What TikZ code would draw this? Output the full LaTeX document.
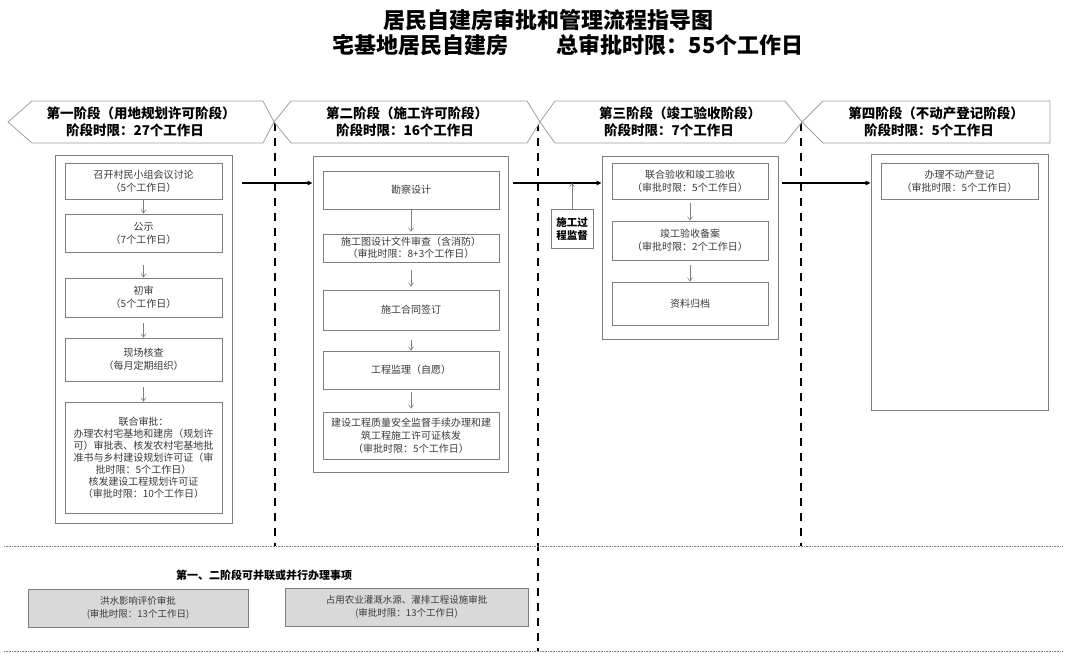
\documentclass[tikz,border=0pt]{standalone}
\usepackage{fontspec}
\setmainfont{Noto Sans CJK SC}
\usetikzlibrary{arrows.meta,calc}
\definecolor{boxline}{HTML}{7F7F7F}
\definecolor{txt}{HTML}{3A3A3A}
\definecolor{grayfill}{HTML}{D9D9D9}
\definecolor{banline}{HTML}{A0A0A0}
\begin{document}
\begin{tikzpicture}[x=1pt,y=-1pt,
  stepbox/.style={draw=boxline, line width=0.7pt, fill=white, text=txt, font=\fontsize{10}{13}\selectfont, align=center, inner sep=0pt},
  outerbox/.style={draw=boxline, line width=0.9pt, inner sep=0pt},
  flow/.style={draw=boxline, line width=0.6pt, -{Straight Barb[length=3.5pt,width=5pt]}},
  mainflow/.style={draw=black, line width=1.4pt, -{Triangle[length=5pt,width=4.5pt]}},
  sepline/.style={draw=black, line width=2pt, dash pattern=on 8pt off 7pt},
  dotline/.style={draw=gray, line width=0.7pt, dash pattern=on 0.8pt off 0.8pt},
  banner/.style={draw=banline, line width=0.8pt, fill=white},
  bantext/.style={font=\bfseries\fontsize{13.5}{14}\selectfont, inner sep=0pt},
  graybox/.style={draw=boxline, line width=0.8pt, fill=grayfill, text=txt, font=\fontsize{9.5}{12.5}\selectfont, align=center, inner sep=0pt},
  titletext/.style={font=\bfseries\fontsize{22}{24}\selectfont, inner sep=0pt}
]
\useasboundingbox (0,0) rectangle (1080,658);

% titles
\node[titletext] (title1) at (548,20) {居民自建房审批和管理流程指导图};
\node[titletext] (title2a) at (420,45) {宅基地居民自建房};
\node[titletext] (title2b) at (680,45) {总审批时限：55个工作日};

% separators
\coordinate (v1t) at (275,123); \coordinate (v1b) at (275,546);
\coordinate (v2t) at (538,123); \coordinate (v2b) at (538,651);
\coordinate (v3t) at (801,123); \coordinate (v3b) at (801,546);
\draw[sepline] (v1t) -- (v1b);
\draw[sepline] (v2t) -- (v2b);
\draw[sepline] (v3t) -- (v3b);

% banners
\draw[banner] (8,122) -- (32,101) -- (263,101) -- (274,122) -- (263,143) -- (32,143) -- cycle;
\draw[banner] (274,122) -- (291,101) -- (527,101) -- (540,122) -- (527,143) -- (291,143) -- cycle;
\draw[banner] (540,122) -- (555,101) -- (785,101) -- (802,122) -- (785,143) -- (555,143) -- cycle;
\draw[banner] (802,122) -- (823,101) -- (1050,101) -- (1050,143) -- (823,143) -- cycle;
\node[bantext] (b1a) at (141,113) {第一阶段（用地规划许可阶段）};
\node[bantext] (b1b) at (135,130) {阶段时限：27个工作日};
\node[bantext] (b2a) at (407,113) {第二阶段（施工许可阶段）};
\node[bantext] (b2b) at (405,130) {阶段时限：16个工作日};
\node[bantext] (b3a) at (680,113) {第三阶段（竣工验收阶段）};
\node[bantext] (b3b) at (669,130) {阶段时限：7个工作日};
\node[bantext] (b4a) at (936,113) {第四阶段（不动产登记阶段）};
\node[bantext] (b4b) at (929,130) {阶段时限：5个工作日};

% outer boxes
\node[outerbox, minimum width=177, minimum height=368] (o1) at (143.5,339) {};
\node[outerbox, minimum width=195, minimum height=316] (o2) at (410.5,314) {};
\node[outerbox, minimum width=176, minimum height=183] (o3) at (690,247.5) {};
\node[outerbox, minimum width=177, minimum height=256] (o4) at (959.5,282) {};

% stage 1
\node[stepbox, minimum width=157, minimum height=36] (a1) at (143.5,181) {召开村民小组会议讨论\\（5个工作日）};
\node[stepbox, minimum width=157, minimum height=38] (a2) at (143.5,233) {公示\\（7个工作日）};
\node[stepbox, minimum width=157, minimum height=39] (a3) at (143.5,297.5) {初审\\（5个工作日）};
\node[stepbox, minimum width=157, minimum height=43] (a4) at (143.5,359.5) {现场核查\\（每月定期组织）};
\node[stepbox, minimum width=157, minimum height=111, font=\fontsize{10}{12}\selectfont] (a5) at (143.5,457.5) {联合审批：\\办理农村宅基地和建房（规划许\\可）审批表、核发农村宅基地批\\准书与乡村建设规划许可证（审\\批时限：5个工作日）\\核发建设工程规划许可证\\（审批时限：10个工作日）};
\draw[flow] (a1.south) -- (a2.north);
\draw[flow, shorten <=13pt] (a2.south) -- (a3.north);
\draw[flow, shorten <=6pt] (a3.south) -- (a4.north);
\draw[flow, shorten <=6pt] (a4.south) -- (a5.north);

% stage 2
\node[stepbox, minimum width=176, minimum height=38] (c1) at (411,190) {勘察设计};
\node[stepbox, minimum width=176, minimum height=28, font=\fontsize{10}{12}\selectfont] (c2) at (411,248) {施工图设计文件审查（含消防）\\（审批时限：8+3个工作日）};
\node[stepbox, minimum width=176, minimum height=40] (c3) at (411,310) {施工合同签订};
\node[stepbox, minimum width=176, minimum height=38] (c4) at (411,370) {工程监理（自愿）};
\node[stepbox, minimum width=176, minimum height=47] (c5) at (411,435.5) {建设工程质量安全监督手续办理和建\\筑工程施工许可证核发\\（审批时限：5个工作日）};
\draw[flow, shorten >=2pt] (c1.south) -- (c2.north);
\draw[flow, shorten <=8pt, shorten >=3pt] (c2.south) -- (c3.north);
\draw[flow, shorten <=10pt] (c3.south) -- (c4.north);
\draw[flow, shorten <=3pt, shorten >=3pt] (c4.south) -- (c5.north);

% stage 3
\node[stepbox, minimum width=156, minimum height=36] (d1) at (690,181) {联合验收和竣工验收\\（审批时限：5个工作日）};
\node[stepbox, minimum width=156, minimum height=39] (d2) at (690,240.5) {竣工验收备案\\（审批时限：2个工作日）};
\node[stepbox, minimum width=156, minimum height=43] (d3) at (690,303.5) {资料归档};
\draw[flow, shorten <=4pt] (d1.south) -- (d2.north);
\draw[flow, shorten <=5pt] (d2.south) -- (d3.north);

% stage 4
\node[stepbox, minimum width=157, minimum height=36] (e1) at (959.5,181) {办理不动产登记\\（审批时限：5个工作日）};

% supervision
\node[stepbox, minimum width=42, minimum height=39, text=black, font=\bfseries\fontsize{10.5}{13}\selectfont] (s) at (572,228.5) {施工过\\程监督};

% main arrows
\coordinate (p1) at (242,183);
\coordinate (p2) at (513,183);
\coordinate (p3) at (782,183);
\draw[mainflow] (p1) -- (p1 -| o2.west);
\draw[mainflow] (p2) -- (p2 -| o3.west);
\draw[mainflow] (p3) -- (p3 -| o4.west);
\draw[flow] (s.north) -- (s.north |- p2);

% bottom section
\coordinate (h1l) at (4,546); \coordinate (h1r) at (1062,546);
\coordinate (h2l) at (4,651); \coordinate (h2r) at (1062,651);
\draw[dotline] (h1l) -- (h1r);
\draw[dotline] (h2l) -- (h2r);
\node[font=\bfseries\fontsize{11}{13}\selectfont, inner sep=0pt] (ptitle) at (264,575) {第一、二阶段可并联或并行办理事项};
\node[graybox, minimum width=220, minimum height=38] (g1) at (138,608) {洪水影响评价审批\\(审批时限：13个工作日)};
\node[graybox, minimum width=243, minimum height=38] (g2) at (406.5,607) {占用农业灌溉水源、灌排工程设施审批\\(审批时限：13个工作日)};
\end{tikzpicture}
\end{document}
